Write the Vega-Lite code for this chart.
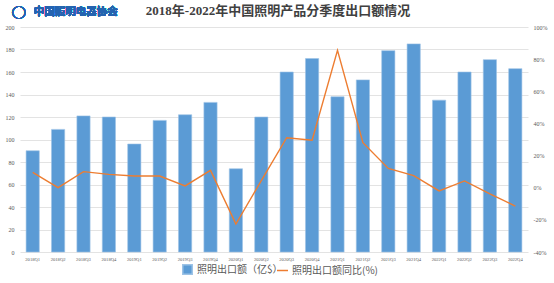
{
  "$schema": "https://vega.github.io/schema/vega-lite/v6.json",
  "width": 508,
  "height": 225,
  "autosize": {"type": "none"},
  "padding": {"left": 20, "top": 27, "right": 26, "bottom": 31},
  "background": "white",
  "title": {
    "text": "2018年-2022年中国照明产品分季度出口额情况",
    "anchor": "middle",
    "frame": "group",
    "offset": -12,
    "dx": 4,
    "font": "Liberation Serif, Noto Sans CJK SC",
    "fontSize": 13,
    "fontWeight": "bold",
    "color": "#404040"
  },
  "data": {
    "values": [
      {"q": "2018Q1", "amount": 90, "yoy": 9.6},
      {"q": "2018Q2", "amount": 109, "yoy": 0.0},
      {"q": "2018Q3", "amount": 121, "yoy": 10.0},
      {"q": "2018Q4", "amount": 120, "yoy": 8.3},
      {"q": "2019Q1", "amount": 96, "yoy": 7.3},
      {"q": "2019Q2", "amount": 117, "yoy": 7.3},
      {"q": "2019Q3", "amount": 122, "yoy": 1.1},
      {"q": "2019Q4", "amount": 133, "yoy": 10.8},
      {"q": "2020Q1", "amount": 74, "yoy": -22.6},
      {"q": "2020Q2", "amount": 120, "yoy": 4.4},
      {"q": "2020Q3", "amount": 160, "yoy": 31.1},
      {"q": "2020Q4", "amount": 172, "yoy": 29.5},
      {"q": "2021Q1", "amount": 138, "yoy": 85.5},
      {"q": "2021Q2", "amount": 153, "yoy": 28.0},
      {"q": "2021Q3", "amount": 179, "yoy": 12.0},
      {"q": "2021Q4", "amount": 185, "yoy": 7.5},
      {"q": "2022Q1", "amount": 135, "yoy": -2.0},
      {"q": "2022Q2", "amount": 160, "yoy": 4.2},
      {"q": "2022Q3", "amount": 171, "yoy": -3.9},
      {"q": "2022Q4", "amount": 163, "yoy": -11.4}
    ]
  },
  "encoding": {
    "x": {
      "field": "q",
      "type": "ordinal",
      "sort": null,
      "scale": {"paddingInner": 0.48, "paddingOuter": 0.24},
      "axis": {
        "title": null,
        "labelAngle": 0,
        "labelFont": "Liberation Serif",
        "labelFontSize": 4.6,
        "labelColor": "#595959",
        "labelPadding": 4,
        "ticks": false,
        "domain": false
      }
    }
  },
  "layer": [
    {
      "encoding": {
        "y": {
          "type": "quantitative",
          "scale": {"domain": [0, 200], "nice": false},
          "axis": {
            "title": null,
            "values": [0, 20, 40, 60, 80, 100, 120, 140, 160, 180, 200],
            "grid": true,
            "gridColor": "#E3E3E3",
            "gridWidth": 1,
            "domain": false,
            "ticks": false,
            "labelOverlap": false,
            "labelFont": "Liberation Serif",
            "labelFontSize": 6,
            "labelColor": "#595959",
            "labelPadding": 6
          }
        }
      },
      "layer": [
        {
          "mark": {"type": "bar", "stroke": "#9DC3E6", "strokeWidth": 0.6},
          "encoding": {
            "y": {"field": "amount"},
            "color": {
              "datum": "照明出口额（亿$）",
              "type": "nominal",
              "scale": {"range": ["#5B9BD5"]},
              "legend": {
                "title": null,
                "orient": "none",
                "legendX": 162,
                "legendY": 237,
                "symbolType": "square",
                "symbolSize": 90,
                "labelFont": "Noto Sans CJK SC",
                "labelFontSize": 10,
                "labelColor": "#595959",
                "labelOffset": 4
              }
            }
          }
        },
        {
          "mark": {"type": "text", "font": "Noto Sans CJK SC", "fontSize": 10.5, "fontWeight": "bold", "align": "left", "baseline": "middle", "color": "#2463B0", "dx": 1, "clip": false},
          "encoding": {
            "y": {"datum": 213.5},
            "x": {"datum": "2018Q1"},
            "text": {"value": "中国照明电器协会"}
          }
        },
        {
          "mark": {"type": "text", "font": "DejaVu Sans", "fontSize": 13, "fontWeight": "bold", "align": "center", "baseline": "middle", "color": "#2463B0", "dx": -14, "dy": 0, "clip": false},
          "encoding": {
            "y": {"datum": 213.5},
            "x": {"datum": "2018Q1"},
            "text": {"value": "◯"}
          }
        }
      ]
    },
    {
      "mark": {"type": "line", "strokeWidth": 1.4},
      "encoding": {
        "y": {
          "field": "yoy",
          "type": "quantitative",
          "scale": {"domain": [-40, 100], "nice": false},
          "axis": {
            "orient": "right",
            "title": null,
            "values": [-40, -20, 0, 20, 40, 60, 80, 100],
            "labelExpr": "datum.value + '%'",
            "grid": false,
            "domain": false,
            "ticks": false,
            "labelFont": "Liberation Serif",
            "labelFontSize": 6,
            "labelColor": "#595959",
            "labelPadding": 5
          }
        },
        "stroke": {
          "datum": "照明出口额同比(%)",
          "type": "nominal",
          "scale": {"range": ["#ED7D31"]},
          "legend": {
            "title": null,
            "orient": "none",
            "legendX": 256,
            "legendY": 237,
            "symbolType": "stroke",
            "symbolSize": 120,
            "symbolStrokeWidth": 1.5,
            "labelFont": "Noto Sans CJK SC",
            "labelFontSize": 10,
            "labelColor": "#595959",
            "labelOffset": 3
          }
        }
      }
    }
  ],
  "resolve": {"scale": {"y": "independent", "color": "independent", "stroke": "independent"}},
  "config": {
    "view": {"stroke": null},
    "axis": {"labelOverlap": false}
  }
}
